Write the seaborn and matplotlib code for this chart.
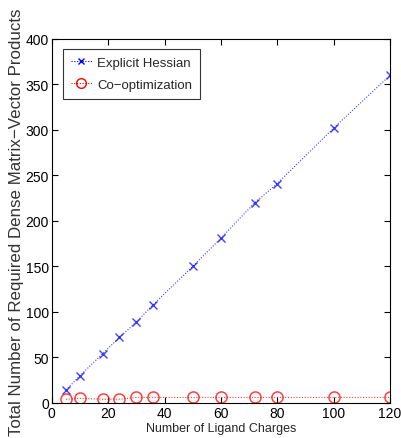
import matplotlib
matplotlib.use("Agg")
import matplotlib.pyplot as plt
import seaborn as sns
import pandas as pd
from matplotlib.lines import Line2D

charges = [5, 10, 18, 24, 30, 36, 50, 60, 72, 80, 100, 120]
explicit_hessian = [14, 30, 54, 72, 89, 108, 150, 181, 220, 241, 302, 360]
co_optimization = [4, 5, 4, 4, 6, 6, 6, 6, 6, 6, 6, 6]
x_ticks = [0, 20, 40, 60, 80, 100, 120]
y_ticks = [0, 50, 100, 150, 200, 250, 300, 350, 400]

sns.set_theme(style="white")
plt.rcParams['font.family'] = ['Liberation Sans', 'DejaVu Sans']

df_eh = pd.DataFrame({"charges": charges, "value": explicit_hessian})
df_co = pd.DataFrame({"charges": charges, "value": co_optimization})

fig = plt.figure(figsize=(4.02, 4.39), dpi=100)
ax = fig.add_axes([0.129, 0.080, 0.841, 0.829])

dotted = (0, (1, 1.5))
sns.lineplot(data=df_eh, x="charges", y="value", color="blue", marker="x",
             linestyle=dotted, linewidth=0.8, markersize=6, markeredgewidth=1.0,
             markeredgecolor="blue", alpha=0.75, ax=ax)
sns.lineplot(data=df_co, x="charges", y="value", color="red", marker="o",
             linestyle=dotted, linewidth=0.8, markersize=8, markeredgewidth=1.1,
             markerfacecolor="none", markeredgecolor="red", alpha=0.75, ax=ax)

ax.set_xlim(0, 120)
ax.set_ylim(0, 400)
ax.set_xticks(x_ticks)
ax.set_yticks(y_ticks)
ax.tick_params(direction="in", top=True, right=True, length=4, width=0.8,
               labelsize=10, colors="black", pad=2, bottom=True, left=True)
for s in ax.spines.values():
    s.set_color("black")
    s.set_linewidth(0.8)

ax.set_xlabel("Number of Ligand Charges", fontsize=9, labelpad=2)
ax.set_ylabel("Total Number of Required Dense Matrix\u2212Vector Products", fontsize=12.2,
              labelpad=1, color="#333333")

handles = [Line2D([], [], color="blue", linestyle=dotted, marker="x",
                  markeredgecolor="blue", linewidth=0.8, markersize=5),
           Line2D([], [], color="red", linestyle=dotted, marker="o",
                  markerfacecolor="none", markeredgecolor="red", linewidth=0.8, markersize=7)]
leg = ax.legend(handles, ["Explicit Hessian", "Co\u2212optimization"], loc="upper left",
                bbox_to_anchor=(0.033, 0.973), fontsize=9.5, frameon=True, fancybox=False,
                edgecolor="black", borderaxespad=0.0, handlelength=1.6, handletextpad=0.4,
                borderpad=0.6, labelspacing=0.75)
leg.get_frame().set_linewidth(0.8)

fig.savefig("out.png", dpi=100)
